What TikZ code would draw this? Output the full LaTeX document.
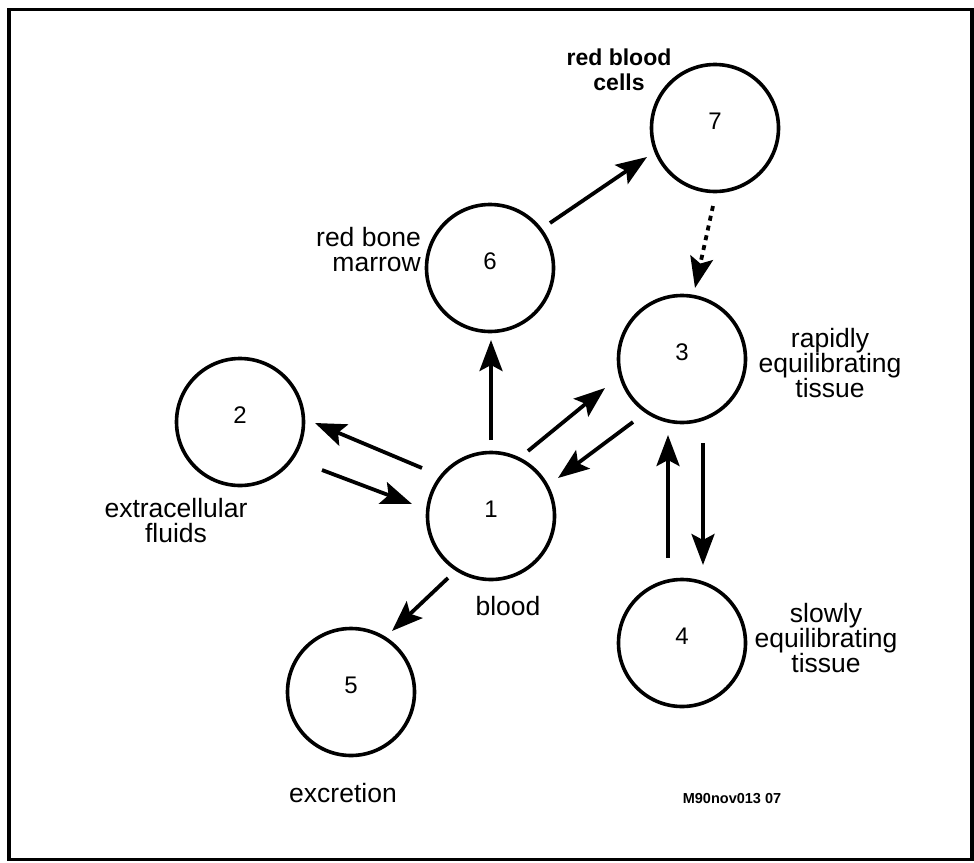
\documentclass[tikz,border=0pt]{standalone}
\usepackage{fontspec}
\setmainfont{Liberation Sans}
\usetikzlibrary{arrows.meta}
\begin{document}
\begin{tikzpicture}[x=1pt,y=-1pt,
  comp/.style={circle, draw, line width=3.6pt, minimum size=127pt, inner sep=0pt},
  num/.style={font=\fontsize{24}{24}\selectfont, yshift=7pt},
  lbl/.style={font=\fontsize{26.5}{25}\selectfont, align=center, inner sep=0pt},
  flow/.style={line width=3.8pt, -{Stealth[length=31pt,width=23pt,inset=6pt]}},
  dotflow/.style={flow, dash pattern=on 5pt off 5pt}
]
\useasboundingbox (0,0) rectangle (974,862);
\draw[line width=3.6pt] (9,9.5) rectangle (972,859.5);

% compartments
\node[comp, label={[num]center:1}] (n1) at (491,516) {};
\node[comp, label={[num]center:2}] (n2) at (240,422) {};
\node[comp, label={[num]center:3}] (n3) at (682,359) {};
\node[comp, label={[num]center:4}] (n4) at (682,643) {};
\node[comp, label={[num]center:5}] (n5) at (351,692) {};
\node[comp, label={[num]center:6}] (n6) at (490,268) {};
\node[comp, label={[num]center:7}] (n7) at (715,128) {};

% compartment names
\node[lbl, font=\bfseries\fontsize{23}{25}\selectfont] (t7) at (619,70) {red blood\\cells};
\node[lbl, align=right, anchor=east] (t6) at (421,250) {red bone\\marrow};
\node[lbl] (t3) at (830,363) {rapidly\\equilibrating\\tissue};
\node[lbl] (t4) at (826,638) {slowly\\equilibrating\\tissue};
\node[lbl] (t2) at (176,521) {extracellular\\fluids};
\node[lbl] (t1) at (508,606) {blood};
\node[lbl] (t5) at (343,793) {excretion};
\node[font=\bfseries\fontsize{14.5}{14.5}\selectfont, inner sep=0pt] (code) at (732,799) {M90nov013 07};

% arrow end points, placed relative to the compartments
\path (n1) ++(-69,-48) coordinate (a12) (n2) ++(75,1)   coordinate (b12);
\path (n2) ++(82,48)   coordinate (a21) (n1) ++(-79,-12) coordinate (b21);
\path (n1) ++(0,-76)   coordinate (a16) (n6) ++(1,72)    coordinate (b16);
\path (n1) ++(37,-65)  coordinate (a13) (n3) ++(-77,29)  coordinate (b13);
\path (n3) ++(-49,63)  coordinate (a31) (n1) ++(67,-38)  coordinate (b31);
\path (n4) ++(-14,-85) coordinate (a43) (n3) ++(-14,76)  coordinate (b43);
\path (n3) ++(21,84)   coordinate (a34) (n4) ++(21,-78)  coordinate (b34);
\path (n1) ++(-43,62)  coordinate (a15) (n5) ++(41,-61)  coordinate (b15);
\path (n6) ++(60,-45)  coordinate (a67) (n7) ++(-68,29)  coordinate (b67);
\path (n7) ++(-2,78)   coordinate (a73) (n3) ++(13,-71)  coordinate (b73);

% transfers
\draw[flow] (a12) -- (b12);
\draw[flow] (a21) -- (b21);
\draw[flow] (a16) -- (b16);
\draw[flow] (a13) -- (b13);
\draw[flow] (a31) -- (b31);
\draw[flow] (a43) -- (b43);
\draw[flow] (a34) -- (b34);
\draw[flow] (a15) -- (b15);
\draw[flow] (a67) -- (b67);
\draw[dotflow] (a73) -- (b73);
\end{tikzpicture}
\end{document}
